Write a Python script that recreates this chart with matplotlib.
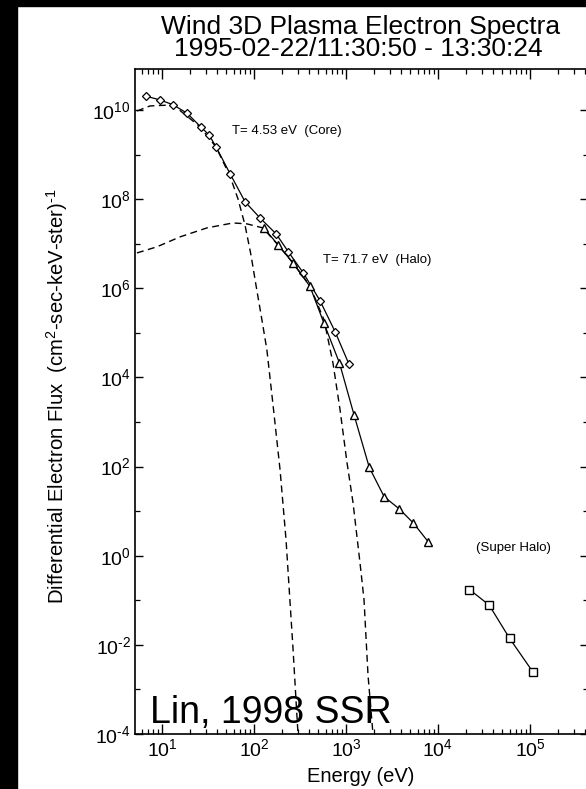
import matplotlib
matplotlib.use("Agg")
import matplotlib.pyplot as plt
from matplotlib.patches import Rectangle
from matplotlib.ticker import FixedLocator, NullFormatter

plt.rcParams['font.family'] = ['Liberation Sans', 'DejaVu Sans']
plt.rcParams['mathtext.fontset'] = 'custom'
plt.rcParams['mathtext.rm'] = 'Liberation Sans'
plt.rcParams['mathtext.it'] = 'Liberation Sans:italic'
plt.rcParams['mathtext.bf'] = 'Liberation Sans:bold'
plt.rcParams['mathtext.default'] = 'rm'

# ---------------- data ----------------
core_E = [6.65, 9.5, 13.3, 18.8, 26.3, 32.5, 38.6, 55, 80, 116, 174, 236, 344, 521, 760, 1075]
core_F = [2.05e10, 1.68e10, 1.3e10, 8.4e9, 4.2e9, 2.75e9, 1.5e9, 3.7e8, 8.7e7, 3.8e7,
          1.66e7, 6.6e6, 2.2e6, 5.3e5, 1.07e5, 2.0e4]

halo_E = [129, 184, 267, 406, 575, 850, 1222, 1790, 2600, 3800, 5400, 7850]
halo_F = [2.2e7, 9.3e6, 3.6e6, 1.1e6, 1.66e5, 2.1e4, 1.45e3, 96, 21, 11.2, 5.4, 2.04]

super_E = [2.2e4, 3.6e4, 6.0e4, 1.07e5]
super_F = [0.174, 0.078, 0.014, 2.5e-3]

core_fit_E = [5.35, 7.4, 13.2, 25.9, 38.6, 54.8, 67.0, 79.8, 92.7, 105, 122, 138, 161,
              192, 223, 266, 286, 301]
core_fit_F = [9.5e9, 1.23e10, 1.3e10, 4.2e9, 1.48e9, 3.3e8, 1.01e8, 2.64e7, 5.6e6, 1.19e6,
              1.95e5, 4.2e4, 2.43e3, 84.8, 2.29, 7.8e-3, 5.9e-4, 1.0e-4]

halo_fit_E = [5.35, 8.8, 15.7, 30.8, 59.2, 84, 125, 182, 266, 406, 577, 722, 861, 1026,
              1192, 1419, 1570, 1735, 1965]
halo_fit_F = [6.2e6, 8.5e6, 1.42e7, 2.26e7, 2.92e7, 2.78e7, 2.26e7, 9.4e6, 3.7e6, 1.13e6,
              1.95e5, 2.1e4, 1.9e3, 122, 15.5, 0.70, 0.103, 2.1e-3, 1.0e-4]

y_major_exp = [-4, -2, 0, 2, 4, 6, 8, 10]
y_minor_exp = [-3, -1, 1, 3, 5, 7, 9]
x_major_exp = [1, 2, 3, 4, 5]

title_lines = ["Wind 3D Plasma Electron Spectra", "1995-02-22/11:30:50 - 13:30:24"]
core_label = "T= 4.53 eV  (Core)"
halo_label = "T= 71.7 eV  (Halo)"
super_label = "(Super Halo)"
citation = "Lin, 1998 SSR"
xlabel = "Energy (eV)"
ylabel = r'Differential Electron Flux  (cm$^{2}$-sec-keV-ster)$^{\text{-}1}$'


def pow_label(e):
    if e < 0:
        return r'$10^{\text{-}%d}$' % (-e)
    return r'$10^{%d}$' % e


# ---------------- figure ----------------
W, H = 586, 789
fig = plt.figure(figsize=(W / 100, H / 100), dpi=100)
fig.patch.set_facecolor('white')


def fx(px):
    return px / W


def fy(py):
    return 1 - py / H


ax_l, ax_r, ax_t, ax_b = 135, 588, 69, 734
ax = fig.add_axes([fx(ax_l), fy(ax_b), (ax_r - ax_l) / W, (ax_b - ax_t) / H])
ax.set_xscale('log')
ax.set_yscale('log')
ax.set_xlim(5.09, 4.27e5)
ax.set_ylim(1e-4, 8.3e10)

dash = (0, (5, 3.2))
ax.plot(core_fit_E, core_fit_F, color='black', lw=1.0, ls=dash, zorder=2)
ax.plot(halo_fit_E, halo_fit_F, color='black', lw=1.0, ls=dash, zorder=2)

ax.plot(core_E, core_F, color='black', lw=0.9, marker='D', ms=4.2, mfc='white',
        mec='black', mew=0.9, zorder=3)
ax.plot(halo_E, halo_F, color='black', lw=0.9, marker='^', ms=5.5, mfc='white',
        mec='black', mew=1.0, zorder=4)
ax.plot(super_E, super_F, color='black', lw=0.9, marker='s', ms=5.5, mfc='white',
        mec='black', mew=1.0, zorder=4)

ax.text(57.7, 3.4e9, core_label, fontsize=9.5, va='center', ha='left')
ax.text(562, 4.4e6, halo_label, fontsize=9.5, va='center', ha='left')
ax.text(25900, 1.5, super_label, fontsize=9.5, va='center', ha='left')

# ticks
ax.yaxis.set_major_locator(FixedLocator([10.0 ** e for e in y_major_exp]))
ax.yaxis.set_minor_locator(FixedLocator([10.0 ** e for e in y_minor_exp]))
ax.set_yticklabels([pow_label(e) for e in y_major_exp])
ax.yaxis.set_minor_formatter(NullFormatter())

ax.xaxis.set_major_locator(FixedLocator([10.0 ** e for e in x_major_exp]))
minors = [m * 10.0 ** e for e in range(0, 6) for m in range(2, 10)]
ax.xaxis.set_minor_locator(FixedLocator(minors))
ax.set_xticklabels([pow_label(e) for e in x_major_exp])
ax.xaxis.set_minor_formatter(NullFormatter())

ax.tick_params(axis='both', which='both', direction='in', top=True, right=True,
               colors='black', labelsize=14)
ax.tick_params(axis='x', which='major', length=7, width=1.0, pad=3)
ax.tick_params(axis='x', which='minor', length=3.5, width=0.9)
ax.tick_params(axis='y', which='major', length=6, width=1.0, pad=3)
ax.tick_params(axis='y', which='minor', length=3.5, width=0.9)
for s in ax.spines.values():
    s.set_linewidth(1.2)

# texts
fig.text(fx(361), fy(34), title_lines[0], fontsize=19, ha='center', va='baseline')
fig.text(fx(358), fy(56), title_lines[1], fontsize=19, ha='center', va='baseline')
fig.text(fx(57), fy(396), ylabel, fontsize=14.6, rotation=90, ha='center', va='center')
fig.text(fx(361), fy(782), xlabel, fontsize=14.5, ha='center', va='baseline')
fig.text(fx(150), fy(723), citation, fontsize=27, ha='left', va='baseline', zorder=10)

# black scan border
fig.patches.append(Rectangle((0, 0), fx(17), 1, transform=fig.transFigure,
                             color='black', zorder=20))
fig.patches.append(Rectangle((0, fy(6)), 1, 6 / H, transform=fig.transFigure,
                             color='black', zorder=20))

fig.savefig('out.png', dpi=100)
